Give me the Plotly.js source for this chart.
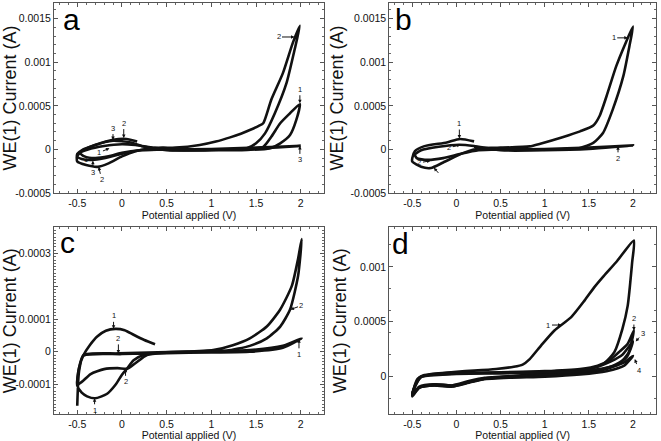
<!DOCTYPE html>
<html><head><meta charset="utf-8">
<script src="https://cdn.plot.ly/plotly-3.0.1.min.js"></script>
<style>html,body{margin:0;padding:0;background:#fff}#chart{width:661px;height:441px}</style>
</head><body><div id="chart"></div>
<script>
// ---------- Data (potential in V, current in A) ----------
// Panel a
const aCurve1V = [0.35,0.15,0.0,-0.2,-0.38,-0.47,-0.42,-0.3,-0.15,0.0,0.2,0.5,1.0,1.4,1.58,1.67,1.77,1.88,1.99,1.95,1.88,1.77,1.65,1.4,1.0,0.6,0.35];
const aCurve1I = [0.00002,0.00005,0.00006,0.00004,0.0,-0.00004,-0.00008,-0.0001,-0.00008,-0.00004,-0.00001,0.0,0.0,0.000005,0.00003,0.000145,0.0003,0.000415,0.00052,0.000338,0.000165,0.00007,0.00001,-0.000005,-0.00001,-0.00001,0.00002];
const aCurve2V = [0.17,0.05,-0.1,-0.3,-0.45,-0.5,-0.5,-0.4,-0.27,-0.15,0.0,0.15,0.3,0.45,0.6,0.87,1.05,1.21,1.33,1.43,1.53,1.58,1.67,1.80,1.91,1.99,1.93,1.84,1.71,1.60,1.50,1.39,1.2,0.9,0.6,0.4];
const aCurve2I = [0.00009,0.00012,0.00011,0.00005,-0.00001,-0.00005,-0.00014,-0.00018,-0.0002,-0.00016,-0.00008,-0.00002,0.00001,0.00002,0.00002,0.00005,0.00009,0.000138,0.00018,0.000222,0.00027,0.0003,0.00057,0.000875,0.00122,0.00142,0.00114,0.00076,0.000415,0.000184,0.00007,0.00001,0.0,-0.000005,0.0,0.00002];
const aCurve3V = [0.25,0.1,-0.1,-0.3,-0.45,-0.5,-0.45,-0.33,-0.2,0.0,0.2,0.5,1.0,1.5,2.0,1.5,1.0,0.5,0.25];
const aCurve3I = [0.00003,0.00008,0.0001,0.00005,-0.00002,-0.00008,-0.00011,-0.00012,-0.0001,-0.00005,-0.00001,0.0,0.000005,0.00002,0.00004,0.00001,-0.000005,-0.00001,0.00003];
// Panel b
const bCurve1V = [0.2,0.04,-0.11,-0.37,-0.47,-0.5,-0.5,-0.4,-0.29,-0.15,0.08,0.27,0.5,0.83,0.95,1.21,1.40,1.55,1.62,1.70,1.81,1.92,2.0,1.96,1.89,1.77,1.66,1.55,1.40,1.1,0.7,0.4,0.2];
const bCurve1I = [0.000092,0.00012,0.00008,0.000035,-0.00002,-0.0001,-0.00014,-0.0002,-0.000214,-0.00015,-0.00004,0.000016,0.00002,0.000035,0.000066,0.000143,0.000207,0.000273,0.00038,0.00061,0.000955,0.00123,0.00141,0.00119,0.00084,0.000457,0.000189,0.000074,0.000016,0.0,-0.000005,0.0,0.00003];
const bCurve2V = [0.2,0.03,-0.2,-0.4,-0.47,-0.45,-0.33,-0.15,0.05,0.25,0.5,1.0,1.5,2.0,1.5,1.0,0.5,0.2];
const bCurve2I = [0.00004,0.000054,0.00003,-0.00001,-0.00006,-0.0001,-0.00012,-0.0001,-0.00005,-0.00001,0.0,0.000005,0.00002,0.000046,0.000005,-0.00001,-0.00001,0.00004];
// Panel c
const cCurve1V = [0.37,0.25,0.13,0.03,-0.075,-0.18,-0.28,-0.36,-0.43,-0.48,-0.5,-0.45,-0.39,-0.3,-0.17,-0.07,0.0,0.055,0.13,0.24,0.47,1.0,1.43,1.8,2.01,1.8,1.43,1.0,0.5,0.0,-0.43,-0.48,-0.5];
const cCurve1I = [0.000023,0.000036,0.000052,0.000066,0.00007,0.000064,0.000046,0.00002,-0.00001,-0.00005,-0.000103,-0.000125,-0.000136,-0.000142,-0.000129,-0.0001,-0.00007,-0.000052,-0.000026,-0.00001,-0.000002,0.000002,0.000005,0.000018,0.000041,0.000012,0.0,-0.000002,-0.000004,-0.000007,-0.000012,-0.00006,-0.000165];
const cCurve2V = [0.9,0.4,-0.04,-0.43,-0.48,-0.5,-0.45,-0.35,-0.2,-0.05,0.06,0.15,0.28,0.5,1.02,1.24,1.43,1.62,1.77,1.90,1.97,2.01,1.97,1.88,1.77,1.62,1.43,1.17,0.9];
const cCurve2I = [0.000002,-0.000002,-0.000005,-0.00001,-0.00005,-0.0001,-0.000092,-0.000068,-0.000053,-0.00005,-0.000052,-0.000035,-0.00001,-0.000003,0.000005,0.00002,0.000041,0.000077,0.000129,0.000201,0.000284,0.000344,0.000232,0.000129,0.000077,0.000041,0.000018,0.000003,0.000002];
// Panel d
const dCurve1V = [-0.5,-0.48,-0.44,-0.38,-0.2,0.0,0.2,0.45,0.65,0.75,0.83,0.96,1.11,1.30,1.45,1.56,1.67,1.82,2.01,1.99,1.94,1.88,1.79,1.67,1.45,1.0,0.7,0.32,0.14,-0.05,-0.24,-0.42,-0.5];
const dCurve1I = [-0.00018,-0.0001,-0.00002,0.00001,0.00003,0.000045,0.000055,0.00007,0.00009,0.00011,0.00016,0.000285,0.000421,0.000542,0.000692,0.000813,0.000918,0.001053,0.00124,0.00104,0.000647,0.000436,0.000226,0.00012,0.00006,0.00003,0.00001,-0.00001,-0.00004,-0.00008,-0.00007,-0.0001,-0.00018];
const dCurve2V = [-0.5,-0.47,-0.42,-0.3,0.0,0.5,1.0,1.4,1.6,1.75,1.85,1.94,2.01,1.95,1.85,1.7,1.4,1.0,0.6,0.3,0.14,-0.05,-0.25,-0.42,-0.5];
const dCurve2I = [-0.00017,-0.00008,-0.00001,0.00002,0.000035,0.00004,0.00005,0.00007,0.0001,0.00016,0.00023,0.0003,0.00042,0.00022,0.00012,0.00007,0.00003,0.00002,0.0,-0.00002,-0.00005,-0.00009,-0.00008,-0.0001,-0.00017];
const dCurve3V = [-0.5,-0.46,-0.4,-0.3,0.0,0.5,1.0,1.4,1.6,1.75,1.88,2.0,1.93,1.8,1.6,1.3,0.9,0.5,0.3,0.14,-0.05,-0.25,-0.42,-0.5];
const dCurve3I = [-0.00016,-0.00007,-0.000005,0.000015,0.00003,0.000035,0.000045,0.00006,0.00009,0.00014,0.0002,0.00032,0.00018,0.00011,0.00006,0.00003,0.00001,-0.000005,-0.00002,-0.00005,-0.00008,-0.00007,-0.00009,-0.00016];
const dCurve4V = [-0.5,-0.45,-0.4,-0.3,0.0,0.5,1.0,1.4,1.7,1.9,2.0,1.9,1.7,1.4,1.0,0.6,0.3,0.14,-0.05,-0.25,-0.42,-0.5];
const dCurve4I = [-0.00015,-0.00006,0.0,0.00001,0.000025,0.00003,0.00004,0.00005,0.00008,0.00013,0.00019,0.0001,0.00005,0.00002,0.0,-0.00001,-0.000025,-0.000055,-0.00009,-0.00008,-0.0001,-0.00015];

// Tick labels
const xTickVals = [-0.5,0,0.5,1,1.5,2];
const xTickText = ['-0.5','0','0.5','1','1.5','2'];
const abTickVals = [-0.0005,0,0.0005,0.001,0.0015];
const abTickText = ['-0.0005','0','0.0005','0.001','0.0015'];
const cTickVals = [-0.0001,0,0.0001,0.0002,0.0003];
const cTickText = ['-0.0001','0','0.0001','','0.0003'];
const dTickVals = [0,0.0005,0.001];
const dTickText = ['0','0.0005','0.001'];

// ---------- Build ----------
const FONT = 'Liberation Sans, Arial, sans-serif';
function curve(v, i, xa, ya){
  return {x:v, y:i, xaxis:xa, yaxis:ya, type:'scatter', mode:'lines',
    line:{color:'#111', width:2.6, shape:'spline', smoothing:0.6}, showlegend:false, hoverinfo:'skip'};
}
const traces = [
  curve(aCurve1V,aCurve1I,'x','y'), curve(aCurve2V,aCurve2I,'x','y'), curve(aCurve3V,aCurve3I,'x','y'),
  curve(bCurve1V,bCurve1I,'x2','y2'), curve(bCurve2V,bCurve2I,'x2','y2'),
  curve(cCurve1V,cCurve1I,'x3','y3'), curve(cCurve2V,cCurve2I,'x3','y3'),
  curve(dCurve1V,dCurve1I,'x4','y4'), curve(dCurve2V,dCurve2I,'x4','y4'), curve(dCurve3V,dCurve3I,'x4','y4'), curve(dCurve4V,dCurve4I,'x4','y4')
];

function xAxis(domain, anchor){
  return {domain:domain, anchor:anchor, range:[-0.76,2.26], tickmode:'array', tickvals:xTickVals, ticktext:xTickText,
    showline:true, mirror:'ticks', linecolor:'#555', linewidth:1, ticks:'inside', ticklen:4, tickcolor:'#555',
    minor:{dtick:0.1, tick0:0, ticks:'inside', ticklen:2, tickcolor:'#666'},
    showgrid:false, zeroline:false, tickfont:{family:FONT, size:10.5, color:'#111'},
    title:{text:'Potential applied (V)', font:{family:FONT, size:10.5, color:'#111'}, standoff:2}};
}
function yAxis(domain, anchor, range, tv, tt, minorDt){
  return {domain:domain, anchor:anchor, range:range, tickmode:'array', tickvals:tv, ticktext:tt,
    showline:true, mirror:'ticks', linecolor:'#555', linewidth:1, ticks:'inside', ticklen:4, tickcolor:'#555',
    minor:{dtick:minorDt, tick0:0, ticks:'inside', ticklen:2, tickcolor:'#666'},
    showgrid:false, zeroline:false, tickfont:{family:FONT, size:10.5, color:'#111'},
    title:{text:'WE(1) Current (A)', font:{family:FONT, size:18, color:'#111'}, standoff:2}};
}
const xL=[0.0817,0.4902], xR=[0.589,0.9924];
const yT=[0.5624,0.9932], yB=[0.0612,0.4846];

function arr(xa, ya, x, y, text, ax, ay){
  return {xref:xa, yref:ya, x:x, y:y, text:text, showarrow:true, ax:ax, ay:ay,
    arrowhead:2, arrowsize:0.7, arrowwidth:1, arrowcolor:'#111', standoff:0, startstandoff:0,
    font:{family:FONT, size:7.5, color:'#111'}};
}
function letter(xa, ya, x, y, t){
  return {xref:xa+' domain', yref:ya+' domain', x:x, y:y, text:t, showarrow:false,
    xanchor:'center', yanchor:'middle', font:{family:FONT, size:30, color:'#000'}};
}
const annotations = [
  letter('x','y',0.066,0.915,'a'), letter('x2','y2',0.055,0.915,'b'),
  letter('x3','y3',0.05,0.92,'c'), letter('x4','y4',0.042,0.915,'d'),
  // panel a
  arr('x','y',1.93,0.00129,'2',-16,0), arr('x','y',1.99,0.00053,'1',0,-14), arr('x','y',1.99,0.00004,'3',0,14),
  arr('x','y',-0.10,0.000107,'3',0,-12), arr('x','y',0.02,0.00013,'2',0,-15),
  arr('x','y',-0.14,0.000012,'1',-10,4), arr('x','y',-0.31,-0.000104,'1',-8,1),
  arr('x','y',-0.325,-0.00013,'3',0,12), arr('x','y',-0.26,-0.0002,'2',3,13),
  // panel b
  arr('x2','y2',1.94,0.00128,'1',-14,0), arr('x2','y2',1.83,0.000035,'2',0,12),
  arr('x2','y2',0.033,0.000125,'1',0,-15), arr('x2','y2',0.045,0.000054,'2',-11,3),
  arr('x2','y2',-0.294,-0.00013,'2',-11,2), arr('x2','y2',-0.256,-0.00021,' ',7,8),
  // panel c
  arr('x3','y3',-0.094,0.00007,'1',0,-13), arr('x3','y3',-0.04,-0.000005,'2',0,-15),
  arr('x3','y3',0.04,-0.000052,'2',0,13), arr('x3','y3',-0.306,-0.000142,'1',0,12),
  arr('x3','y3',1.885,0.000129,'2',11,-4), arr('x3','y3',1.98,0.000038,'1',0,15),
  // panel d
  arr('x4','y4',1.19,0.00047,'1',-13,0), arr('x4','y4',2.01,0.00042,'2',0,-12),
  arr('x4','y4',2.03,0.00032,'3',7,-8), arr('x4','y4',2.02,0.00016,'4',4,11)
];

const layout = {
  width:661, height:441, margin:{l:0,r:0,t:0,b:0}, paper_bgcolor:'#fff', plot_bgcolor:'#fff',
  showlegend:false, font:{family:FONT},
  xaxis: xAxis(xL,'y'), yaxis: yAxis(yT,'x',[-0.0005,0.00168],abTickVals,abTickText,0.0001),
  xaxis2: xAxis(xR,'y2'), yaxis2: yAxis(yT,'x2',[-0.0005,0.00168],abTickVals,abTickText,0.0001),
  xaxis3: xAxis(xL,'y3'), yaxis3: yAxis(yB,'x3',[-0.00019,0.00038],cTickVals,cTickText,0.00001),
  xaxis4: xAxis(xR,'y4'), yaxis4: yAxis(yB,'x4',[-0.00034,0.00136],dTickVals,dTickText,0.0002),
  annotations: annotations
};
Plotly.newPlot('chart', traces, layout, {staticPlot:true, displayModeBar:false});
</script></body></html>
